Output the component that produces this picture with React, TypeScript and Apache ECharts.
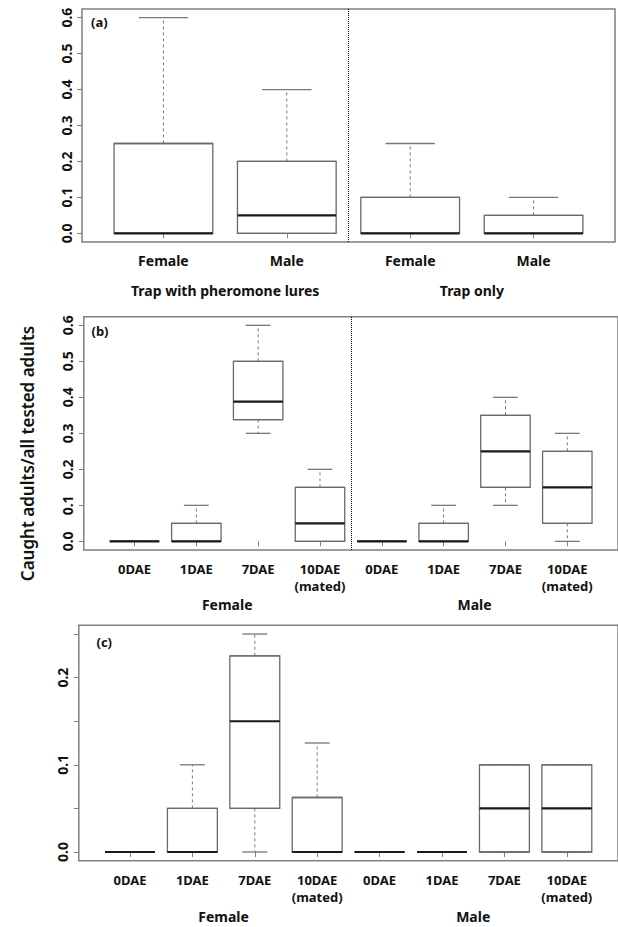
import React, { useEffect, useRef } from "react";
import * as echarts from "echarts";

const W = 618;
const H = 927;

// ---------- Panel (a) ----------
const catsA = ["Female", "Male", "Female", "Male"];
const groupsA = ["Trap with pheromone lures", "Trap only"];
const groupPosA = [1.5, 3.5];
const minA = [0, 0, 0, 0];
const q1A = [0, 0, 0, 0];
const medA = [0, 0.05, 0, 0];
const q3A = [0.25, 0.2, 0.1, 0.05];
const maxA = [0.6, 0.4, 0.25, 0.1];

// ---------- Panels (b) and (c) ----------
const catsBC = ["0DAE", "1DAE", "7DAE", "10DAE\n(mated)", "0DAE", "1DAE", "7DAE", "10DAE\n(mated)"];
const groupsBC = ["Female", "Male"];
const groupPosBC = [2.5, 6.5];

const minB = [0, 0, 0.3, 0, 0, 0, 0.1, 0];
const q1B = [0, 0, 0.338, 0, 0, 0, 0.15, 0.05];
const medB = [0, 0, 0.388, 0.05, 0, 0, 0.25, 0.15];
const q3B = [0, 0.05, 0.5, 0.15, 0, 0.05, 0.35, 0.25];
const maxB = [0, 0.1, 0.6, 0.2, 0, 0.1, 0.4, 0.3];

const minC = [0, 0, 0, 0, 0, 0, 0, 0];
const q1C = [0, 0, 0.05, 0, 0, 0, 0, 0];
const medC = [0, 0, 0.15, 0, 0, 0, 0.05, 0.05];
const q3C = [0, 0.05, 0.225, 0.0625, 0, 0, 0.1, 0.1];
const maxC = [0, 0.1, 0.25, 0.125, 0, 0, 0.1, 0.1];

// ---------- Tick values ----------
const ticksAB = [0, 0.1, 0.2, 0.3, 0.4, 0.5, 0.6];
const ticksC = [0, 0.05, 0.1, 0.15, 0.2, 0.25];
const labelsC = [0, 0.1, 0.2];
const posA = [1, 2, 3, 4];
const posBC = [1, 2, 3, 4, 5, 6, 7, 8];

const FONT = "'Noto Sans', 'Open Sans', sans-serif";
const FRAME = "#808080";
const BOXC = "#6a6a6a";
const WHISK = "#777777";

function buildData(pos: number[], mn: number[], q1: number[], md: number[], q3: number[], mx: number[]) {
  return pos.map((p, i) => [p, mn[i], q1[i], md[i], q3[i], mx[i]]);
}

function renderBox(_params: any, api: any) {
  const x = api.value(0);
  const lo = api.value(1);
  const q1 = api.value(2);
  const md = api.value(3);
  const q3 = api.value(4);
  const hi = api.value(5);
  const bw = api.size([0.8, 0])[0];
  const cx = api.coord([x, 0])[0];
  const yLo = api.coord([x, lo])[1];
  const yQ1 = api.coord([x, q1])[1];
  const yMd = api.coord([x, md])[1];
  const yQ3 = api.coord([x, q3])[1];
  const yHi = api.coord([x, hi])[1];
  const x0 = cx - bw / 2;
  const x1 = cx + bw / 2;
  const c0 = cx - bw / 4;
  const c1 = cx + bw / 4;
  const children: any[] = [];
  const dash = { stroke: WHISK, lineWidth: 1, lineDash: [3, 3] };
  const solid = { stroke: WHISK, lineWidth: 1.3 };
  if (Math.abs(yHi - yQ3) > 0.5) {
    children.push({ type: "line", shape: { x1: cx, y1: yQ3, x2: cx, y2: yHi }, style: dash });
  }
  if (Math.abs(yLo - yQ1) > 0.5) {
    children.push({ type: "line", shape: { x1: cx, y1: yQ1, x2: cx, y2: yLo }, style: dash });
  }
  children.push({ type: "line", shape: { x1: c0, y1: yHi, x2: c1, y2: yHi }, style: solid });
  children.push({ type: "line", shape: { x1: c0, y1: yLo, x2: c1, y2: yLo }, style: solid });
  children.push({
    type: "rect",
    shape: { x: x0, y: yQ3, width: bw, height: Math.max(yQ1 - yQ3, 0) },
    style: { fill: "#ffffff", stroke: BOXC, lineWidth: 1.3 },
  });
  children.push({ type: "line", shape: { x1: x0, y1: yQ3, x2: x1, y2: yQ3 }, style: { stroke: BOXC, lineWidth: 1.3 } });
  children.push({ type: "line", shape: { x1: x0, y1: yQ1, x2: x1, y2: yQ1 }, style: { stroke: BOXC, lineWidth: 1.3 } });
  children.push({ type: "line", shape: { x1: x0, y1: yMd, x2: x1, y2: yMd }, style: { stroke: "#1a1a1a", lineWidth: 2.1 } });
  return { type: "group", children };
}

function makeXAxes(gridIndex: number, min: number, max: number, pos: number[], cats: string[], gpos: number[], groups: string[], fs: number, gfs: number, margin: number, gmargin: number) {
  return [
    {
      type: "value",
      gridIndex,
      min,
      max,
      position: "bottom",
      axisLine: { show: false },
      splitLine: { show: false },
      axisTick: { show: true, length: 5, customValues: pos, lineStyle: { color: FRAME, width: 1 } },
      axisLabel: {
        show: true,
        customValues: pos,
        margin,
        formatter: (v: number) => cats[Math.round(v) - 1] ?? "",
        fontFamily: FONT,
        fontWeight: "bold",
        fontSize: fs,
        lineHeight: 17,
        color: "#111",
        align: "center",
      },
    },
    {
      type: "value",
      gridIndex,
      min,
      max,
      position: "bottom",
      axisLine: { show: false },
      splitLine: { show: false },
      axisTick: { show: false },
      axisLabel: {
        show: true,
        customValues: gpos,
        margin: gmargin,
        formatter: (v: number) => (Math.abs(v - gpos[0]) < 0.01 ? groups[0] : groups[1]),
        fontFamily: FONT,
        fontWeight: "bold",
        fontSize: gfs,
        color: "#111",
      },
    },
  ];
}

function makeYAxis(gridIndex: number, min: number, max: number, ticks: number[], labels: number[]) {
  return {
    type: "value",
    gridIndex,
    min,
    max,
    axisLine: { show: false },
    splitLine: { show: false },
    axisTick: { show: true, length: 5, customValues: ticks, lineStyle: { color: FRAME, width: 1 } },
    axisLabel: {
      show: true,
      customValues: labels,
      rotate: 90,
      margin: 9,
      formatter: (v: number) => v.toFixed(1),
      fontFamily: FONT,
      fontWeight: "bold",
      fontSize: 14,
      color: "#111",
    },
  };
}

export default function App() {
  const ref = useRef<HTMLDivElement>(null);
  useEffect(() => {
    document.body.style.margin = "0";
    if (!ref.current) return;
    const chart = echarts.init(ref.current, undefined, { renderer: "svg" });
    const gridStyle = { show: true, borderColor: FRAME, borderWidth: 1.5, backgroundColor: "transparent" };
    const option: any = {
      animation: false,
      backgroundColor: "#ffffff",
      grid: [
        { left: 82, top: 9, width: 533, height: 233, ...gridStyle },
        { left: 83.8, top: 316.7, width: 535, height: 233.3, ...gridStyle },
        { left: 78.8, top: 625.3, width: 540, height: 235.4, ...gridStyle },
      ],
      xAxis: [
        ...makeXAxes(0, 0.34, 4.66, posA, catsA, groupPosA, groupsA, 14, 14, 10, 41),
        ...makeXAxes(1, 0.18, 8.82, posBC, catsBC, groupPosBC, groupsBC, 13, 14, 10, 47),
        ...makeXAxes(2, 0.18, 8.82, posBC, catsBC, groupPosBC, groupsBC, 13, 14, 10.5, 49),
      ],
      yAxis: [
        makeYAxis(0, -0.024, 0.624, ticksAB, ticksAB),
        makeYAxis(1, -0.024, 0.624, ticksAB, ticksAB),
        makeYAxis(2, -0.01, 0.26, ticksC, labelsC),
      ],
      series: [
        {
          type: "custom",
          xAxisIndex: 0,
          yAxisIndex: 0,
          renderItem: renderBox,
          data: buildData(posA, minA, q1A, medA, q3A, maxA),
          encode: { x: 0, y: [1, 2, 3, 4, 5] },
          markLine: {
            silent: true,
            symbol: ["none", "none"],
            label: { show: false },
            lineStyle: { type: "dotted", color: "#000", width: 1 },
            data: [{ xAxis: 2.5 }],
          },
        },
        {
          type: "custom",
          xAxisIndex: 2,
          yAxisIndex: 1,
          renderItem: renderBox,
          data: buildData(posBC, minB, q1B, medB, q3B, maxB),
          encode: { x: 0, y: [1, 2, 3, 4, 5] },
          markLine: {
            silent: true,
            symbol: ["none", "none"],
            label: { show: false },
            lineStyle: { type: "dotted", color: "#000", width: 1 },
            data: [{ xAxis: 4.5 }],
          },
        },
        {
          type: "custom",
          xAxisIndex: 4,
          yAxisIndex: 2,
          renderItem: renderBox,
          data: buildData(posBC, minC, q1C, medC, q3C, maxC),
          encode: { x: 0, y: [1, 2, 3, 4, 5] },
        },
      ],
      graphic: [
        {
          type: "text",
          left: 91,
          top: 15,
          style: { text: "(a)", font: `bold 13px ${FONT}`, fill: "#111" },
        },
        {
          type: "text",
          left: 91.5,
          top: 324.5,
          style: { text: "(b)", font: `bold 13px ${FONT}`, fill: "#111" },
        },
        {
          type: "text",
          left: 96.5,
          top: 635.5,
          style: { text: "(c)", font: `bold 13px ${FONT}`, fill: "#111" },
        },
        {
          type: "text",
          x: 27,
          y: 453.5,
          rotation: Math.PI / 2,
          style: {
            text: "Caught adults/all tested adults",
            font: `600 17px ${FONT}`,
            fill: "#111",
            align: "center",
            verticalAlign: "middle",
            textAlign: "center",
            textVerticalAlign: "middle",
          },
        },
      ],
    };
    chart.setOption(option);
    return () => chart.dispose();
  }, []);
  return <div ref={ref} style={{ width: W, height: H }} />;
}
